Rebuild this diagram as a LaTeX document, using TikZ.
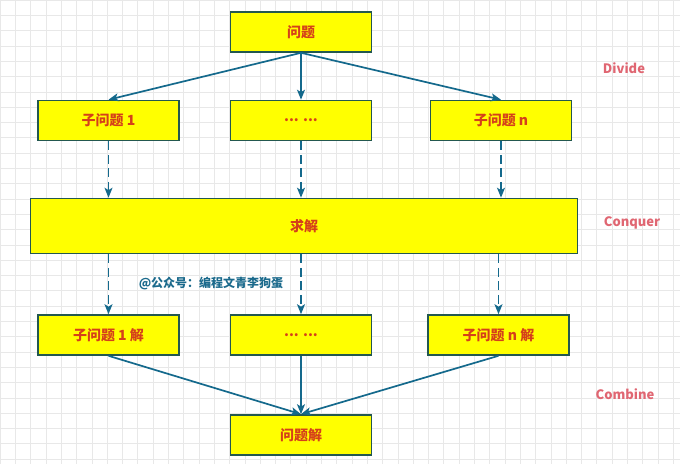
\documentclass[tikz,border=0pt]{standalone}
\usepackage{fontspec}
\newfontfamily\cjk{Noto Sans CJK SC}
\usetikzlibrary{arrows.meta}
\definecolor{boxborder}{HTML}{23584F}
\definecolor{boxtext}{HTML}{D5401A}
\definecolor{arrowc}{HTML}{14698C}
\definecolor{phase}{HTML}{E06672}
\definecolor{gridc}{HTML}{E8E8E8}
\definecolor{wm}{HTML}{1B6A8C}
\definecolor{boxfill}{HTML}{FFFF00}
\tikzset{
  x=1pt,y=-1pt,
  box/.style={draw=boxborder, line width=1.6pt, fill=boxfill, inner sep=0pt,
    minimum width=141pt, minimum height=40pt, text=boxtext,
    font=\cjk\bfseries\fontsize{14}{16}\selectfont},
  conn/.style={draw=arrowc, line width=1.7pt, -{Stealth[length=10pt,width=8pt,inset=2.5pt]}},
  dconn/.style={conn, dash pattern=on 9pt off 4.5pt},
  phaselabel/.style={text=phase, font=\cjk\bfseries\fontsize{13}{15}\selectfont},
}
\begin{document}
\begin{tikzpicture}
\useasboundingbox (0,0) rectangle (680,464);
\fill[white] (0,0) rectangle (680,464);
\foreach \i in {0,...,44} {\draw[gridc, line width=0.6pt] (\i*15.3,0) -- (\i*15.3,464);}
\foreach \i in {0,...,30} {\draw[gridc, line width=0.6pt] (0,\i*15.3) -- (680,\i*15.3);}

\node[box] (top) at (301,32) {问题};
\node[box] (s1) at (108.5,120.5) {子问题 1};
\node[box] (s2) at (301,120.5) {... ...};
\node[box] (sn) at (501,120.5) {子问题 n};
\node[box, minimum width=547pt, minimum height=55pt] (solve) at (304,226) {求解};
\node[box] (r1) at (108.5,335) {子问题 1 解};
\node[box] (r2) at (301,335) {... ...};
\node[box] (rn) at (498.5,335) {子问题 n 解};
\node[box] (final) at (301,435) {问题解};

\node[phaselabel] (ldiv) at (624,68) {Divide};
\node[phaselabel] (lcon) at (632,223) {Conquer};
\node[phaselabel] (lcom) at (625,394) {Combine};
\node[text=wm, font=\cjk\bfseries\fontsize{12}{14}\selectfont] (wmark) at (211,283) {@公众号：编程文青李狗蛋};

\draw[conn] (top.south) -- (s1.north);
\draw[conn] (top.south) -- (s2.north);
\draw[conn] (top.south) -- (sn.north);

\draw[dconn] (s1.south) -- (s1.south |- solve.north);
\draw[dconn] (s2.south) -- (s2.south |- solve.north);
\draw[dconn] (sn.south) -- (sn.south |- solve.north);

\draw[dconn] (r1.north |- solve.south) -- (r1.north);
\draw[dconn] (r2.north |- solve.south) -- (r2.north);
\draw[dconn] (rn.north |- solve.south) -- (rn.north);

\draw[conn] (r1.south) -- (final.north);
\draw[conn] (r2.south) -- (final.north);
\draw[conn] (rn.south) -- (final.north);
\end{tikzpicture}
\end{document}
